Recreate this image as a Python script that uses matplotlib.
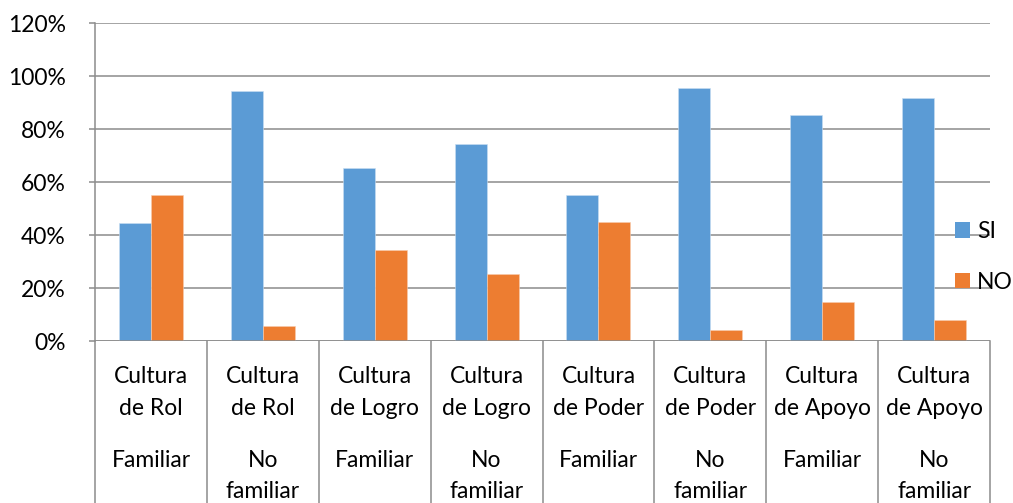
import numpy as np
import matplotlib
matplotlib.use('Agg')
import matplotlib.pyplot as plt
from matplotlib.patches import Patch

plt.rcParams['font.family'] = ['Lato', 'DejaVu Sans']

# Survey results by organisational culture and familiarity
culturas = ['Cultura\nde Rol', 'Cultura\nde Rol', 'Cultura\nde Logro', 'Cultura\nde Logro',
            'Cultura\nde Poder', 'Cultura\nde Poder', 'Cultura\nde Apoyo', 'Cultura\nde Apoyo']
tipo = ['Familiar', 'No\nfamiliar', 'Familiar', 'No\nfamiliar',
        'Familiar', 'No\nfamiliar', 'Familiar', 'No\nfamiliar']
si = [44.7, 94.4, 65.3, 74.5, 55.0, 95.6, 85.2, 91.7]
no = [55.3, 5.6, 34.6, 25.5, 45.0, 4.4, 14.7, 8.2]

color_si = '#5B9BD5'
color_no = '#ED7D31'
grid_color = '#8C8C8C'

fig = plt.figure(figsize=(10.13, 5.03), dpi=100)
ax = fig.add_axes([95 / 1013, 161.7 / 503, 895 / 1013, 318.3 / 503])

x = np.arange(len(si))
w = 1 / 3.5
ax.bar(x - w / 2, si, w, color=color_si, edgecolor='#c9def2', linewidth=0.4, zorder=3)
ax.bar(x + w / 2, no, w, color=color_no, edgecolor='#f8cdb0', linewidth=0.4, zorder=3)

ax.set_xlim(-0.5, len(si) - 0.5)
ax.set_ylim(0, 120)
ax.set_yticks(np.arange(0, 121, 20))
ax.set_yticklabels([f'{v}%' for v in range(0, 121, 20)])
ax.yaxis.grid(True, color=grid_color, linewidth=1.1, zorder=0)
ax.tick_params(axis='y', length=4, color=grid_color, width=1.1, pad=17, labelsize=16.5)
ax.set_xticks([])

for s in ['top', 'right', 'bottom']:
    ax.spines[s].set_visible(False)
ax.spines['left'].set_color(grid_color)
ax.spines['left'].set_linewidth(1.1)
ax.axhline(0, color=grid_color, linewidth=1.1, zorder=4)

# category separators running down through the label area
tr = ax.get_xaxis_transform()
for b in np.arange(-0.5, len(si), 1.0):
    ax.plot([b, b], [0, -0.52], color=grid_color, linewidth=1.1, transform=tr, clip_on=False)

for i in range(len(si)):
    ax.annotate(culturas[i], xy=(x[i], 0), xycoords=tr, xytext=(0, -25),
                textcoords='offset pixels', ha='center', va='top', fontsize=16.5,
                linespacing=1.62)
    ax.annotate(tipo[i], xy=(x[i], 0), xycoords=tr, xytext=(0, -109),
                textcoords='offset pixels', ha='center', va='top', fontsize=16.5,
                linespacing=1.55)

handles = [Patch(facecolor=color_si, label='SI'), Patch(facecolor=color_no, label='NO')]
fig.legend(handles=handles, loc='center left', bbox_to_anchor=(955 / 1013, 1 - 257 / 503),
           frameon=False, fontsize=16.5, handlelength=0.65, handleheight=0.65,
           handletextpad=0.3, labelspacing=1.3, borderpad=0, borderaxespad=0)

fig.savefig('out.png', dpi=100)
